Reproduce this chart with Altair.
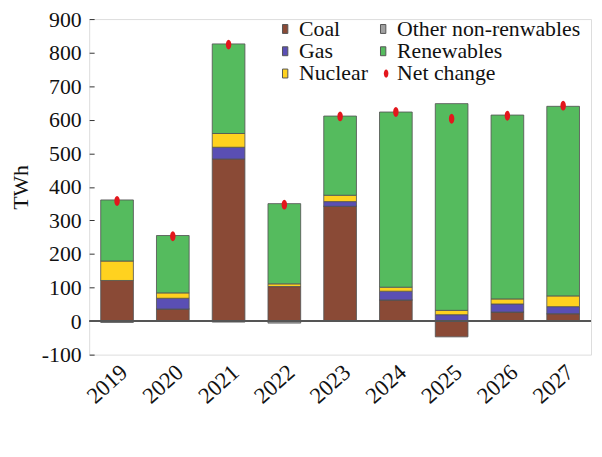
import altair as alt
import pandas as pd

years = ["2019", "2020", "2021", "2022", "2023", "2024", "2025", "2026", "2027"]
coal = [121, 36, 483, 103, 342, 63, -47, 27, 22]
other = [-4, 0, -3, -6, 0, 0, 0, 0, 0]
gas = [0, 32, 35, 0, 14, 26, 19, 24, 21]
nuclear = [58, 16, 41, 8, 19, 12, 13, 15, 32]
renewables = [182, 171, 267, 239, 236, 522, 616, 548, 565]
net_change = [358, 253, 824, 347, 610, 623, 603, 612, 642]
y_ticks = [-100, 0, 100, 200, 300, 400, 500, 600, 700, 800, 900]

series_names = ["Coal", "Gas", "Nuclear", "Other non-renwables", "Renewables"]
series_colors = ["#8a4a36", "#5a4fb4", "#ffd21f", "#a0a0a0", "#55bb5e"]
stack_order = {"Coal": 0, "Other non-renwables": 1, "Gas": 2, "Nuclear": 3, "Renewables": 4}
values_by_series = {
    "Coal": coal,
    "Other non-renwables": other,
    "Gas": gas,
    "Nuclear": nuclear,
    "Renewables": renewables,
}

rows = []
for name, vals in values_by_series.items():
    for y, v in zip(years, vals):
        rows.append({"year": y, "series": name, "value": v, "ord": stack_order[name]})
bars_df = pd.DataFrame(rows)
net_df = pd.DataFrame({"year": years, "value": net_change, "label": ["Net change"] * len(years)})
zero_df = pd.DataFrame({"value": [0]})

FONT = "Liberation Serif, Times New Roman, serif"
ELLIPSE = "M0,-1A0.55,1 0 1,1 0,1A0.55,1 0 1,1 0,-1Z"
RECT = "M-0.6,-1H0.6V1H-0.6Z"

yscale = alt.Scale(domain=[-100, 900], nice=False, zero=False)
yaxis = alt.Axis(title="TWh", values=y_ticks, labelFontSize=22,
                 labelFont=FONT, labelColor="#111", tickSize=5, tickColor="#333",
                 labelExpr="toString(datum.value)", labelOverlap=False,
                 offset=-5, labelPadding=8, domain=False, grid=False,
                 titleFont=FONT, titleFontSize=22, titleFontWeight="normal",
                 titleColor="#111", titleX=-67, titleBaseline="alphabetic")
xscale = alt.Scale(paddingInner=0.414, paddingOuter=0.207)
xaxis = alt.Axis(title=None, labelAngle=-42, labelFontSize=23, labelFont=FONT,
                 labelColor="#111", ticks=False, domain=False, labelPadding=6)

bars = alt.Chart(bars_df).mark_bar(stroke="#555", strokeWidth=1, strokeOpacity=0.85).encode(
    x=alt.X("year:N", sort=years, scale=xscale, axis=xaxis),
    y=alt.Y("value:Q", stack="zero", scale=yscale, axis=yaxis),
    color=alt.Color("series:N",
                    scale=alt.Scale(domain=series_names, range=series_colors),
                    legend=alt.Legend(title=None, orient="none", legendX=187, legendY=-1,
                                      columns=2, columnPadding=4, rowPadding=0.5,
                                      labelFont=FONT, labelFontSize=22, labelColor="#111",
                                      labelOffset=3, labelLimit=400, symbolType=RECT, symbolSize=81,
                                      symbolStrokeColor="#555", symbolStrokeWidth=1,
                                      padding=0)),
    order=alt.Order("ord:Q"),
)

zero_rule = alt.Chart(zero_df).mark_rule(color="#555", strokeWidth=2).encode(
    y=alt.Y("value:Q", scale=yscale, axis=yaxis),
)

points = alt.Chart(net_df).mark_point(filled=True, size=100, opacity=1, color="#e3171d").encode(
    x=alt.X("year:N", sort=years, scale=xscale, axis=xaxis),
    y=alt.Y("value:Q", scale=yscale, axis=yaxis),
    shape=alt.Shape("label:N", scale=alt.Scale(domain=["Net change"], range=[ELLIPSE]),
                    legend=alt.Legend(title=None, orient="none", legendX=289, legendY=44,
                                      labelFont=FONT, labelFontSize=22, labelColor="#111",
                                      labelOffset=0, symbolSize=70, symbolFillColor="#e3171d",
                                      symbolStrokeColor="#e3171d", symbolStrokeWidth=0,
                                      padding=0)),
)

chart = alt.layer(bars, zero_rule, points).properties(
    width=507, height=339,
    autosize=alt.AutoSizeParams(type="none"),
    padding={"left": 82, "top": 9, "right": 3, "bottom": 80},
).configure_view(stroke="#222", strokeWidth=1.5).configure(background="white", font=FONT)

chart.save("out.html", embed_options={"renderer": "svg", "actions": False})
